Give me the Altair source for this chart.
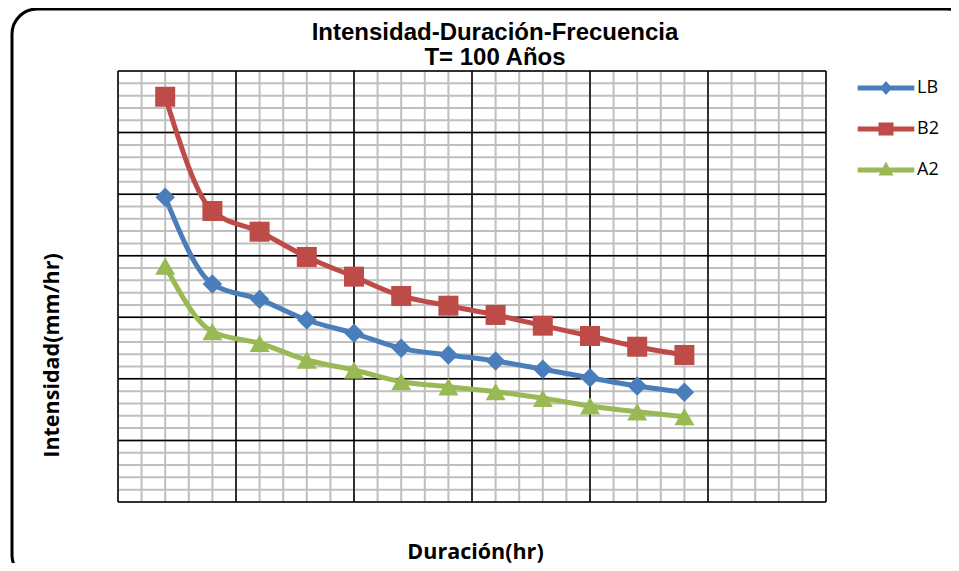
import altair as alt
import pandas as pd

# ---- data ----
duracion = [1, 2, 3, 4, 5, 6, 7, 8, 9, 10, 11, 12]
lb = [247.4, 177.0, 164.6, 147.8, 137.0, 124.8, 119.4, 114.5, 107.8, 100.9, 94.2, 89.1]
b2 = [329.1, 236.3, 219.5, 199.0, 183.0, 167.3, 159.4, 151.9, 143.2, 134.8, 126.1, 119.4]
a2 = [191.6, 138.3, 128.9, 115.3, 107.2, 97.7, 93.6, 89.6, 84.2, 78.0, 73.3, 69.3]
series = ["LB", "B2", "A2"]
colors = ["#4A7EBB", "#BE4B48", "#98B954"]
marker_shapes = ["diamond", "square", "triangle-up"]
title_lines = ["Intensidad-Duración-Frecuencia", "T= 100 Años"]

# grid tick values
x_minor = [i * 0.5 for i in range(31)]
x_major = [i * 2.5 for i in range(7)]
y_minor = [i * 10 for i in range(36)]
y_major = [i * 50 for i in range(8)]

# legend symbols: line segment + marker (custom SVG paths)
legend_paths = [
    "M-2.83,-0.25H2.83V0.25H-2.83Z M0,-0.7L0.62,0L0,0.7L-0.62,0Z",
    "M-2.83,-0.25H2.83V0.25H-2.83Z M-0.75,-0.65H0.75V0.65H-0.75Z",
    "M-2.83,-0.25H2.83V0.25H-2.83Z M0,-0.85L0.75,0.55L-0.75,0.55Z",
]

rows = []
for name, vals in zip(series, [lb, b2, a2]):
    for d, v in zip(duracion, vals):
        rows.append({"serie": name, "duracion": d, "intensidad": v})
df = pd.DataFrame(rows)

xs = alt.Scale(domain=[0, 15], nice=False, zero=False)
ys = alt.Scale(domain=[0, 350], nice=False, zero=False)
cs = alt.Scale(domain=series, range=colors)

x_axis = alt.Axis(
    title="Duración(hr)", labels=False, ticks=False, domain=False, grid=False,
    titleFont="Open Sans", titleFontSize=21.5, titleFontWeight="bold", titleColor="black",
    titleX=357, titleY=50, titleBaseline="middle", titleAlign="center",
)
y_axis = alt.Axis(
    title="Intensidad(mm/hr)", labels=False, ticks=False, domain=False, grid=False,
    titleFont="Open Sans", titleFontSize=21.5, titleFontWeight="bold", titleColor="black",
    titleX=-66, titleY=284, titleBaseline="middle", titleAlign="center", titleAngle=270,
)

# decorative rounded chart-area border
border = alt.Chart(pd.DataFrame({"k": [0]})).mark_rect(
    color="black", fillOpacity=0, stroke="black", strokeWidth=3, cornerRadius=25
).encode(
    x=alt.value(-106), x2=alt.value(854), y=alt.value(-62), y2=alt.value(509)
)

# chart title (two lines)
title_layers = []
for i, (txt, ypix) in enumerate(zip(title_lines, [-31, -6])):
    title_layers.append(
        alt.Chart(pd.DataFrame({"t": [txt]})).mark_text(
            font="Liberation Sans", fontSize=24, fontWeight="bold",
            color="black", align="center", baseline="alphabetic",
        ).encode(text="t:N", x=alt.value(377), y=alt.value(ypix))
    )

def vrules(vals, color, width):
    return alt.Chart(pd.DataFrame({"v": vals})).mark_rule(
        color=color, strokeWidth=width
    ).encode(x=alt.X("v:Q", scale=xs, axis=x_axis))

def hrules(vals, color, width):
    return alt.Chart(pd.DataFrame({"v": vals})).mark_rule(
        color=color, strokeWidth=width
    ).encode(y=alt.Y("v:Q", scale=ys, axis=y_axis))

minor_v = vrules(x_minor, "#BFBFBF", 2)
minor_h = hrules(y_minor, "#BFBFBF", 2)
major_v = vrules(x_major, "black", 1.5)
major_h = hrules(y_major, "black", 1.5)

base = alt.Chart(df)
enc = dict(
    x=alt.X("duracion:Q", scale=xs, axis=x_axis),
    y=alt.Y("intensidad:Q", scale=ys, axis=y_axis),
)

line_layers = []
point_layers = []
for name, col, shp in zip(series, colors, marker_shapes):
    sub = base.transform_filter(alt.datum.serie == name)
    line_layers.append(
        sub.mark_line(strokeWidth=5, interpolate="monotone", color=col).encode(
            order="duracion:Q", **enc
        )
    )
    point_layers.append(
        sub.mark_point(
            filled=True, shape=shp, size=400 if shp != "diamond" else 380,
            color=col, opacity=1, strokeWidth=0,
        ).encode(**enc)
    )

leg = alt.Legend(
    title=None, orient="none", legendX=758, legendY=7, padding=0,
    rowPadding=22, labelFont="Open Sans", labelFontSize=18, labelColor="black",
    labelOffset=21, symbolSize=400, symbolStrokeWidth=0, symbolOpacity=1,
    labelLimit=200,
)
legend_layer = alt.Chart(df).transform_filter("false").mark_point(
    filled=True, size=400, opacity=1
).encode(
    color=alt.Color("serie:N", scale=cs, legend=leg),
    shape=alt.Shape("serie:N", scale=alt.Scale(domain=series, range=legend_paths), legend=leg),
    **enc,
)

chart = alt.layer(
    border, minor_v, minor_h, major_v, major_h, *line_layers, *point_layers,
    legend_layer, *title_layers,
).properties(
    width=708,
    height=431,
    autosize=alt.AutoSizeParams(type="none"),
    padding={"left": 110, "top": 63, "right": 125, "bottom": 61},
    background="white",
).configure_view(stroke=None)

chart.save("out.html", embed_options={"renderer": "svg", "actions": False})
